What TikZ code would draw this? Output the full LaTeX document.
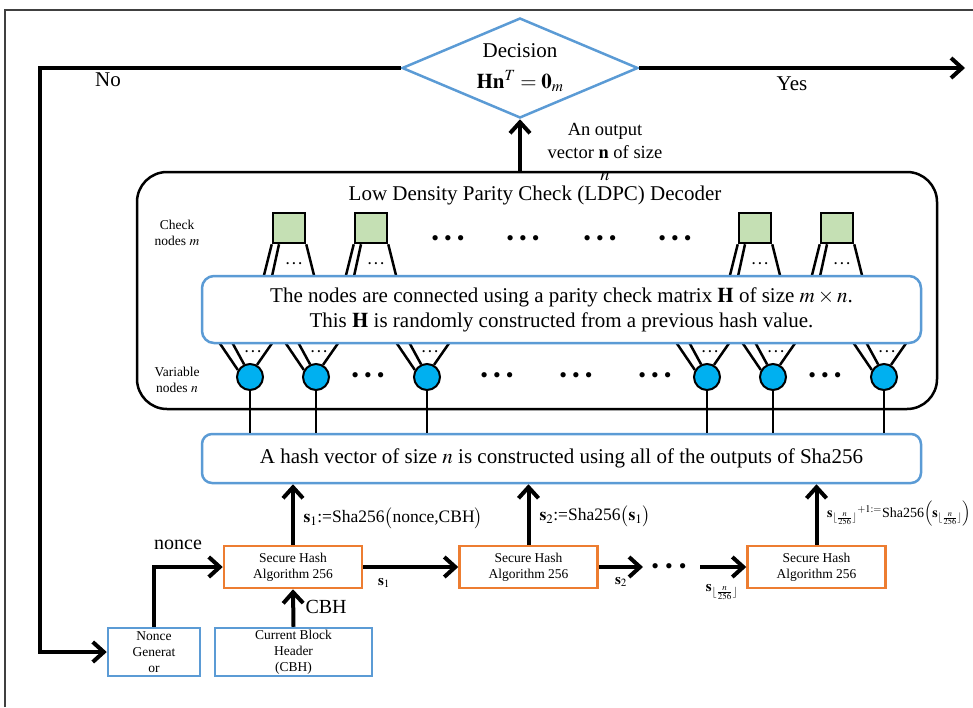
\documentclass[tikz,border=0pt]{standalone}
\usepackage{mathptmx}
\usepackage{fontspec}
\setmainfont{Liberation Serif}
\usetikzlibrary{arrows.meta,shapes.geometric}
\definecolor{boxblue}{HTML}{5B9BD5}
\definecolor{boxorange}{HTML}{ED7D31}
\definecolor{checkgreen}{HTML}{C5E0B4}
\definecolor{varcyan}{HTML}{00B0F0}

\begin{document}
\begin{tikzpicture}[x=1pt,y=-1pt,>={Straight Barb[length=11pt,width=20pt]},
    flow/.style={line width=4pt},
    wire/.style={line width=2.5pt},
    blue box/.style={draw=boxblue,line width=2.5pt,align=center,inner sep=0pt},
    sha box/.style={draw=boxorange,line width=2.5pt,align=center,inner sep=0pt,minimum width=138pt,minimum height=42pt,font=\fontsize{13.5}{16}\selectfont},
    check node/.style={draw,line width=2.5pt,fill=checkgreen,minimum width=32pt,minimum height=30pt,inner sep=0pt},
    var node/.style={circle,draw,line width=2pt,fill=varcyan,minimum size=26pt,inner sep=0pt},
    row dots/.style={font=\fontsize{22}{22}\selectfont,inner sep=0pt},
    cone dots/.style={font=\fontsize{13}{13}\selectfont\bfseries,inner sep=0pt}]
    \useasboundingbox (0,0) rectangle (973,707);
    \draw[line width=1.5pt,black!75] (5,707) -- (5,10) -- (973,10);

    % decision and decoder
    \node[diamond,draw=boxblue,line width=2.5pt,aspect=2.36,minimum width=236pt,minimum height=100pt,inner sep=0pt,align=center,font=\fontsize{21}{31}\selectfont] (dec) at (520,68) {Decision\\$\mathbf{Hn}^{T}=\mathbf{0}_{m}$};
    \coordinate (loop) at (40,68);
    \coordinate (yes) at (965,68);
    \node[font=\fontsize{21}{21}\selectfont] (no) at (108,80) {No};
    \node[font=\fontsize{21}{21}\selectfont] (yeslabel) at (792,84) {Yes};
    \node[draw,line width=2.5pt,rounded corners=30pt,minimum width=800pt,minimum height=237pt] (ldpc) at (537,290.5) {};
    \node[font=\fontsize{18.5}{22.5}\selectfont,align=center] (out) at (605,152) {An output\\vector $\mathbf{n}$ of size\\$n$};
    \node[font=\fontsize{21}{21}\selectfont] (title) at (535,195) {Low Density Parity Check (LDPC) Decoder};
    \node[font=\fontsize{13.5}{16}\selectfont,align=center] (chk) at (177,233) {Check\\nodes $m$};
    \node[font=\fontsize{13.5}{16}\selectfont,align=center] (var) at (177,380) {Variable\\nodes $n$};

    % check nodes
    \node[check node] (c1) at (289,228) {};
    \node[check node] (c2) at (371,228) {};
    \node[check node] (c3) at (755,228) {};
    \node[check node] (c4) at (837,228) {};
    \draw[wire] (c1.south west) -- ++(-8,32) (c1.south) ++(-10,0) -- ++(-7,32) (c1.south east) -- ++(8,32);
    \draw[wire] (c2.south west) -- ++(-8,32) (c2.south) ++(-10,0) -- ++(-7,32) (c2.south east) -- ++(8,32);
    \draw[wire] (c3.south west) -- ++(-8,32) (c3.south) ++(-10,0) -- ++(-7,32) (c3.south east) -- ++(8,32);
    \draw[wire] (c4.south west) -- ++(-8,32) (c4.south) ++(-10,0) -- ++(-7,32) (c4.south east) -- ++(8,32);
    \node[cone dots] at (294,264) {.\hspace{3pt}.\hspace{3pt}.};
    \node[cone dots] at (376,264) {.\hspace{3pt}.\hspace{3pt}.};
    \node[cone dots] at (760,264) {.\hspace{3pt}.\hspace{3pt}.};
    \node[cone dots] at (842,264) {.\hspace{3pt}.\hspace{3pt}.};
    \node[row dots] at (448,241) {\textbullet\hspace{5pt}\textbullet\hspace{5pt}\textbullet};
    \node[row dots] at (523,241) {\textbullet\hspace{5pt}\textbullet\hspace{5pt}\textbullet};
    \node[row dots] at (600,241) {\textbullet\hspace{5pt}\textbullet\hspace{5pt}\textbullet};
    \node[row dots] at (675,241) {\textbullet\hspace{5pt}\textbullet\hspace{5pt}\textbullet};

    % variable nodes
    \node[var node] (v1) at (250,377) {};
    \node[var node] (v2) at (316,377) {};
    \node[var node] (v3) at (427,377) {};
    \node[var node] (v4) at (707,377) {};
    \node[var node] (v5) at (773,377) {};
    \node[var node] (v6) at (884,377) {};
    \draw[wire] (v1.150) -- ++(-19,-28) (v1.115) -- ++(-12,-22) (v1.60) -- ++(16,-23);
    \draw[wire] (v2.150) -- ++(-19,-28) (v2.115) -- ++(-12,-22) (v2.60) -- ++(16,-23);
    \draw[wire] (v3.150) -- ++(-19,-28) (v3.115) -- ++(-12,-22) (v3.60) -- ++(16,-23);
    \draw[wire] (v4.150) -- ++(-19,-28) (v4.115) -- ++(-12,-22) (v4.60) -- ++(16,-23);
    \draw[wire] (v5.150) -- ++(-19,-28) (v5.115) -- ++(-12,-22) (v5.60) -- ++(16,-23);
    \draw[wire] (v6.150) -- ++(-19,-28) (v6.115) -- ++(-12,-22) (v6.60) -- ++(16,-23);
    \node[cone dots] at (253,352) {.\hspace{3pt}.\hspace{3pt}.};
    \node[cone dots] at (319,352) {.\hspace{3pt}.\hspace{3pt}.};
    \node[cone dots] at (430,352) {.\hspace{3pt}.\hspace{3pt}.};
    \node[cone dots] at (710,352) {.\hspace{3pt}.\hspace{3pt}.};
    \node[cone dots] at (776,352) {.\hspace{3pt}.\hspace{3pt}.};
    \node[cone dots] at (887,352) {.\hspace{3pt}.\hspace{3pt}.};
    \node[row dots] at (368,378) {\textbullet\hspace{5pt}\textbullet\hspace{5pt}\textbullet};
    \node[row dots] at (497,378) {\textbullet\hspace{5pt}\textbullet\hspace{5pt}\textbullet};
    \node[row dots] at (576,378) {\textbullet\hspace{5pt}\textbullet\hspace{5pt}\textbullet};
    \node[row dots] at (655,378) {\textbullet\hspace{5pt}\textbullet\hspace{5pt}\textbullet};
    \node[row dots] at (825,378) {\textbullet\hspace{5pt}\textbullet\hspace{5pt}\textbullet};

    \node[blue box,fill=white,rounded corners=12pt,minimum width=719pt,minimum height=67pt,font=\fontsize{21}{25}\selectfont] (mat) at (561.5,309.5) {The nodes are connected using a parity check matrix $\mathbf{H}$ of size $m\times n$.\\This $\mathbf{H}$ is randomly constructed from a previous hash value.};

    % hash vector and sha256 chain
    \node[blue box,rounded corners=10pt,minimum width=719pt,minimum height=49pt,font=\fontsize{21}{21}\selectfont] (hash) at (561.5,458.5) {A hash vector of size $n$ is constructed using all of the outputs of Sha256};
    \draw[wire] (v1.south) -- (v1.south |- hash.north);
    \draw[wire] (v2.south) -- (v2.south |- hash.north);
    \draw[wire] (v3.south) -- (v3.south |- hash.north);
    \draw[wire] (v4.south) -- (v4.south |- hash.north);
    \draw[wire] (v5.south) -- (v5.south |- hash.north);
    \draw[wire] (v6.south) -- (v6.south |- hash.north);

    \node[sha box] (sha1) at (293,567) {Secure Hash\\Algorithm 256};
    \node[sha box] (sha2) at (528.5,567) {Secure Hash\\Algorithm 256};
    \node[sha box] (sha3) at (816.5,567) {Secure Hash\\Algorithm 256};
    \coordinate (gap1) at (643,567);
    \coordinate (gap2) at (700,567);
    \node[row dots] (gapdots) at (669,569) {\textbullet\hspace{6pt}\textbullet\hspace{6pt}\textbullet};
    \node[blue box,minimum width=92pt,minimum height=48pt,font=\fontsize{13.5}{16}\selectfont] (ngen) at (154,652) {Nonce\\Generat\\or};
    \node[blue box,minimum width=157pt,minimum height=48pt,font=\fontsize{13.5}{16}\selectfont] (cbh) at (293.5,652) {Current Block\\Header\\(CBH)};

    \node[font=\fontsize{20}{20}\selectfont] (noncelabel) at (178,545) {nonce};
    \node[font=\fontsize{20}{20}\selectfont,anchor=west] (cbhlabel) at (302,607) {CBH};
    \node[font=\fontsize{17.5}{17.5}\selectfont,anchor=west] (s1def) at (300,518) {$\mathbf{s}_{1}$:=Sha256$\bigl($nonce,CBH$\bigr)$};
    \node[font=\fontsize{17.5}{17.5}\selectfont,anchor=west] (s2def) at (536,516) {$\mathbf{s}_{2}$:=Sha256$\bigl(\mathbf{s}_{1}\bigr)$};
    \node[font=\fontsize{14}{14}\selectfont,anchor=west,inner sep=0pt] (sndef) at (827,514) {$\mathbf{s}_{\lfloor\frac{n}{256}\rfloor}{}^{+1:=}$Sha256$\Bigl(\mathbf{s}_{\lfloor\frac{n}{256}\rfloor}\Bigr)$};
    \node[font=\fontsize{15}{15}\selectfont] (s1) at (384,583) {$\mathbf{s}_{1}$};
    \node[font=\fontsize{15}{15}\selectfont] (s2) at (621,582) {$\mathbf{s}_{2}$};
    \node[font=\fontsize{15}{15}\selectfont] (sn) at (722,592) {$\mathbf{s}_{\lfloor\frac{n}{256}\rfloor}$};

    % connectors
    \draw[flow,->] (dec.west) -- (loop) |- (ngen.west);
    \draw[flow,->] (dec.east) -- (yes);
    \draw[flow,->] (dec.south |- ldpc.north) -- (dec.south);
    \draw[flow,->] (sha1.north) -- (sha1.north |- hash.south);
    \draw[flow,->] (sha2.north) -- (sha2.north |- hash.south);
    \draw[flow,->] (sha3.north) -- (sha3.north |- hash.south);
    \draw[flow,->] (sha1.east) -- (sha2.west);
    \draw[flow,->] (sha2.east) -- (gap1);
    \draw[flow,->] (gap2) -- (sha3.west);
    \draw[flow,->] (ngen.north) |- (sha1.west);
    \draw[flow,->] (cbh.north) -- (sha1.south);
\end{tikzpicture}
\end{document}
